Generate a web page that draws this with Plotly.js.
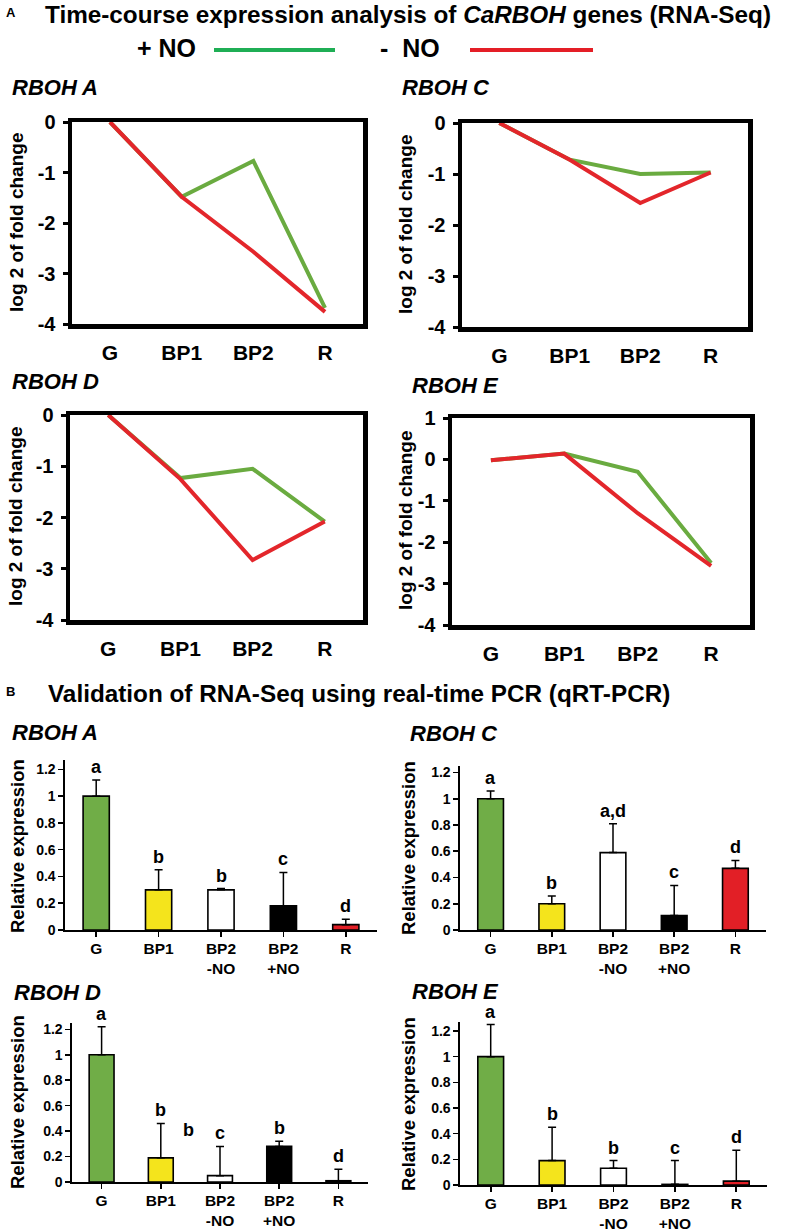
<!DOCTYPE html>
<html>
<head>
<meta charset="utf-8">
<script src="https://cdn.plot.ly/plotly-3.0.1.min.js"></script>
<style>
  html, body { margin: 0; padding: 0; background: #ffffff; }
  #fig { width: 787px; height: 1231px; }
</style>
</head>
<body>
<div id="fig"></div>
<script>
// ---- data: RNA-Seq time course (log2 fold change) ----
const lineCats = ['G', 'BP1', 'BP2', 'R'];
const plusNO_A  = [0, -1.48, -0.77, -3.68];
const minusNO_A = [0, -1.48, -2.57, -3.76];
const plusNO_C  = [0, -0.72, -1.0, -0.97];
const minusNO_C = [0, -0.72, -1.57, -0.97];
const plusNO_D  = [0, -1.23, -1.05, -2.08];
const minusNO_D = [0, -1.25, -2.83, -2.08];
const plusNO_E  = [-0.02, 0.14, -0.3, -2.5];
const minusNO_E = [-0.02, 0.14, -1.3, -2.57];
const lineTickVals = [0, -1, -2, -3, -4];
const lineTickText = ['0', '-1', '-2', '-3', '-4'];
const lineTickValsE = [1, 0, -1, -2, -3, -4];
const lineTickTextE = ['1', '0', '-1', '-2', '-3', '-4'];

// ---- data: qRT-PCR validation (relative expression) ----
const barCats = ['G', 'BP1', 'BP2<br>-NO', 'BP2<br>+NO', 'R'];
const barColors = ['#70ad47', '#f4e41c', '#ffffff', '#000000', '#e21f26'];
const qpcr_A = [1.0, 0.30, 0.30, 0.18, 0.04];
const err_A  = [0.12, 0.15, 0.01, 0.25, 0.04];
const sig_A  = ['a', 'b', 'b', 'c', 'd'];
const qpcr_C = [1.0, 0.20, 0.59, 0.11, 0.47];
const err_C  = [0.06, 0.06, 0.22, 0.23, 0.06];
const sig_C  = ['a', 'b', 'a,d', 'c', 'd'];
const qpcr_D = [1.0, 0.19, 0.05, 0.28, 0.01];
const err_D  = [0.22, 0.27, 0.23, 0.04, 0.09];
const sig_D  = ['a', 'b', 'c', 'b', 'd'];
const qpcr_E = [1.0, 0.19, 0.13, 0.005, 0.03];
const err_E  = [0.25, 0.26, 0.06, 0.185, 0.24];
const sig_E  = ['a', 'b', 'b', 'c', 'd'];

const W = 787, H = 1231;
const FONT = 'Liberation Sans, Arial, sans-serif';
const GREEN = '#6aab40', RED = '#e3262b';

// pixel box -> paper domains
const xd = (l, r) => [l / W, r / W];
const yd = (t, b) => [1 - b / H, 1 - t / H];
const px = v => v / W;
const py = v => 1 - v / H;

const traces = [];
const layout = {
    width: W, height: H,
    margin: { l: 0, r: 0, t: 0, b: 0 },
    paper_bgcolor: '#ffffff',
    plot_bgcolor: '#ffffff',
    showlegend: false,
    font: { family: FONT, color: '#000000' },
    annotations: [],
    shapes: []
};

function note(text, x, y, size, opts) {
    layout.annotations.push(Object.assign({
        text: text, xref: 'paper', yref: 'paper',
        x: px(x), y: py(y), xanchor: 'left', yanchor: 'middle',
        showarrow: false,
        font: { family: FONT, size: size, color: '#000000', weight: 'bold' }
    }, opts || {}));
}

// ---- line charts (panel A) ----
const lineSets = [
    { n: 1, plus: plusNO_A, minus: minusNO_A, box: [72, 363, 122, 324], range: [-4, 0], tv: lineTickVals, tt: lineTickText },
    { n: 2, plus: plusNO_C, minus: minusNO_C, box: [462, 748, 123, 327], range: [-4, 0], tv: lineTickVals, tt: lineTickText },
    { n: 3, plus: plusNO_D, minus: minusNO_D, box: [70, 363, 415, 620], range: [-4, 0], tv: lineTickVals, tt: lineTickText },
    { n: 4, plus: plusNO_E, minus: minusNO_E, box: [452, 750, 418, 625], range: [-4, 1], tv: lineTickValsE, tt: lineTickTextE }
];

lineSets.forEach(s => {
    const xa = 'x' + s.n, ya = 'y' + s.n;
    traces.push({ x: lineCats, y: s.plus, xaxis: xa, yaxis: ya, type: 'scatter', mode: 'lines',
        name: '+ NO', line: { color: GREEN, width: 4 }, hoverinfo: 'skip' });
    traces.push({ x: lineCats, y: s.minus, xaxis: xa, yaxis: ya, type: 'scatter', mode: 'lines',
        name: '- NO', line: { color: RED, width: 4 }, hoverinfo: 'skip' });
    layout['xaxis' + s.n] = {
        domain: xd(s.box[0], s.box[1]), anchor: ya,
        range: [-0.53, 3.53], showgrid: false, zeroline: false,
        showline: true, mirror: true, linecolor: '#000', linewidth: 4.5,
        ticks: '', ticklabelstandoff: 6,
        tickfont: { family: FONT, size: 21, weight: 'bold', color: '#000' }
    };
    layout['yaxis' + s.n] = {
        domain: yd(s.box[2], s.box[3]), anchor: xa,
        range: s.range, showgrid: false, zeroline: false,
        showline: true, mirror: true, linecolor: '#000', linewidth: 4.5,
        tickvals: s.tv, ticktext: s.tt,
        ticks: 'outside', ticklen: 5, tickwidth: 3, tickcolor: '#000',
        ticklabelstandoff: 3,
        tickfont: { family: FONT, size: 20, weight: 'bold', color: '#000' }
    };
});

// ---- bar charts (panel B) ----
const barSets = [
    { n: 5, vals: qpcr_A, err: err_A, sig: sig_A, box: [65, 377, 760, 930], top: 1.27 },
    { n: 6, vals: qpcr_C, err: err_C, sig: sig_C, box: [460, 766, 766, 930], top: 1.25 },
    { n: 7, vals: qpcr_D, err: err_D, sig: sig_D, box: [72, 368, 1023, 1182], top: 1.25 },
    { n: 8, vals: qpcr_E, err: err_E, sig: sig_E, box: [460, 767, 1022, 1185], top: 1.27 }
];

barSets.forEach(s => {
    const xa = 'x' + s.n, ya = 'y' + s.n;
    traces.push({
        x: [0, 1, 2, 3, 4], y: s.vals, xaxis: xa, yaxis: ya, type: 'bar', width: 0.42,
        marker: { color: barColors, line: { color: '#000', width: 1.6 } },
        error_y: { type: 'data', symmetric: false, array: s.err, arrayminus: s.vals.map(() => 0),
            color: '#000', thickness: 1.5, width: 4 },
        hoverinfo: 'skip'
    });
    layout['xaxis' + s.n] = {
        domain: xd(s.box[0], s.box[1]), anchor: ya,
        range: [-0.5, 4.5], tickvals: [0, 1, 2, 3, 4], ticktext: barCats,
        showgrid: false, zeroline: false,
        showline: true, linecolor: '#000', linewidth: 1.6,
        ticks: 'outside', tickson: 'boundaries', ticklen: 5, tickwidth: 1.6, tickcolor: '#000',
        ticklabelstandoff: -1,
        tickfont: { family: FONT, size: 15.5, weight: 'bold', color: '#000' }
    };
    layout['yaxis' + s.n] = {
        domain: yd(s.box[2], s.box[3]), anchor: xa,
        range: [0, s.top], dtick: 0.2, tick0: 0, showgrid: false, zeroline: false,
        showline: true, linecolor: '#000', linewidth: 1.6,
        ticks: 'outside', ticklen: 5, tickwidth: 1.6, tickcolor: '#000',
        tickfont: { family: FONT, size: 14, weight: 'bold', color: '#000' }
    };
    // significance letters sit on top of each error bar
    s.sig.forEach((t, i) => {
        layout.annotations.push({
            text: t, xref: xa, yref: ya, x: i, y: s.vals[i] + s.err[i],
            xanchor: 'center', yanchor: 'bottom', yshift: 1, showarrow: false,
            font: { family: FONT, size: 18, weight: 'bold', color: '#000' }
        });
    });
});

// stray letter between BP1 and BP2 -NO in RBOH D
layout.annotations.push({
    text: 'b', xref: 'x7', yref: 'y7', x: 1.47, y: 0.41, showarrow: false,
    xanchor: 'center', yanchor: 'middle',
    font: { family: FONT, size: 18, weight: 'bold', color: '#000' }
});

// ---- headings and panel labels ----
note('A', 4, 12, 13);
note('Time-course expression analysis of <i>CaRBOH</i> genes (RNA-Seq)', 43, 15, 24.3);
note('+ NO', 135, 48, 25);
note('-  NO', 378, 48, 25);
layout.shapes.push(
    { type: 'line', xref: 'paper', yref: 'paper', x0: px(214), x1: px(335), y0: py(50), y1: py(50),
      line: { color: '#1fae55', width: 4 } },
    { type: 'line', xref: 'paper', yref: 'paper', x0: px(470), x1: px(593), y0: py(50), y1: py(50),
      line: { color: '#e41e26', width: 4 } }
);

const ital = { family: FONT, size: 22, color: '#000', weight: 'bold', style: 'italic' };
note('RBOH A', 10, 88, 22, { font: ital });
note('RBOH C', 400, 88, 22, { font: ital });
note('RBOH D', 10, 381, 22, { font: ital });
note('RBOH E', 410, 385, 22, { font: ital });

note('B', 4, 691, 13);
note('Validation of RNA-Seq using real-time PCR (qRT-PCR)', 46, 693, 24.3);
note('RBOH A', 10, 732, 22, { font: ital });
note('RBOH C', 408, 733, 22, { font: ital });
note('RBOH D', 12, 992, 22, { font: ital });
note('RBOH E', 410, 991, 22, { font: ital });

// rotated axis titles
const vt = (text, x, y, size, weight) => note(text, x, y, size, {
    textangle: -90, xanchor: 'center', yanchor: 'middle',
    font: { family: FONT, size: size, weight: weight, color: '#000' }
});
vt('log 2 of fold change', 16, 223, 19, 'bold');
vt('log 2 of fold change', 405, 225, 19, 'bold');
vt('log 2 of fold change', 16, 517, 19, 'bold');
vt('log 2 of fold change', 405, 521, 19, 'bold');
vt('Relative expression', 17, 846, 18.5, 'bold');
vt('Relative expression', 408, 848, 18.5, 'bold');
vt('Relative expression', 17, 1102, 18.5, 'bold');
vt('Relative expression', 408, 1104, 18.5, 'bold');

Plotly.newPlot('fig', traces, layout, { displayModeBar: false, staticPlot: true });
</script>
</body>
</html>
